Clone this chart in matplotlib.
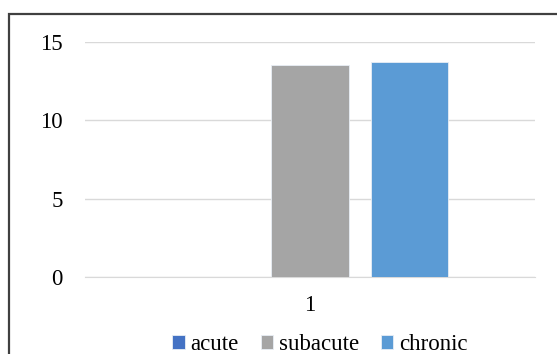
import matplotlib.pyplot as plt
from matplotlib.patches import Rectangle

categories = ["1"]
series = ["acute", "subacute", "chronic"]
values = [0, 13.5, 13.7]
colors = ["#4472C4", "#A5A5A5", "#5B9BD5"]
yticks = [0, 5, 10, 15]

plt.rcParams['font.family'] = ['Liberation Serif', 'DejaVu Serif']

W, H = 557, 354
fig = plt.figure(figsize=(W / 100, H / 100), dpi=100)

# chart border (right and bottom edges are cut off in the original)
fig.patches.append(Rectangle((8.5 / W, -0.5), 2.0, 1 - 13.5 / H + 0.5,
                             transform=fig.transFigure, fill=False,
                             edgecolor="#404040", linewidth=1.6))

ax = fig.add_axes([85 / W, 1 - 277 / H, 450 / W, (277 - 41.7) / H])

width = 0.173
offsets = [-0.221, 0, 0.221]
for name, val, col, off in zip(series, values, colors, offsets):
    ax.bar(0 + off, val, width=width, color=col, edgecolor="#e8eef5",
           linewidth=0.6, label=name, zorder=3)

ax.set_xlim(-0.5, 0.5)
ax.set_ylim(0, 15)
ax.set_yticks(yticks)
ax.set_xticks([0])
ax.set_xticklabels(categories)
ax.yaxis.grid(True, color="#d9d9d9", linewidth=1.0, zorder=0)
for s in ["top", "right", "left"]:
    ax.spines[s].set_visible(False)
ax.spines["bottom"].set_color("#d9d9d9")
ax.tick_params(length=0, labelsize=16.5, colors="#000000")
ax.tick_params(axis="y", pad=16)
ax.tick_params(axis="x", pad=13)

fig.legend(loc="center", bbox_to_anchor=(320 / W, 1 - 345 / H), ncol=3,
           frameon=False, fontsize=16.5, handlelength=0.55, handleheight=0.55,
           handletextpad=0.25, columnspacing=0.95, borderpad=0)

fig.savefig("out.png", dpi=100)
